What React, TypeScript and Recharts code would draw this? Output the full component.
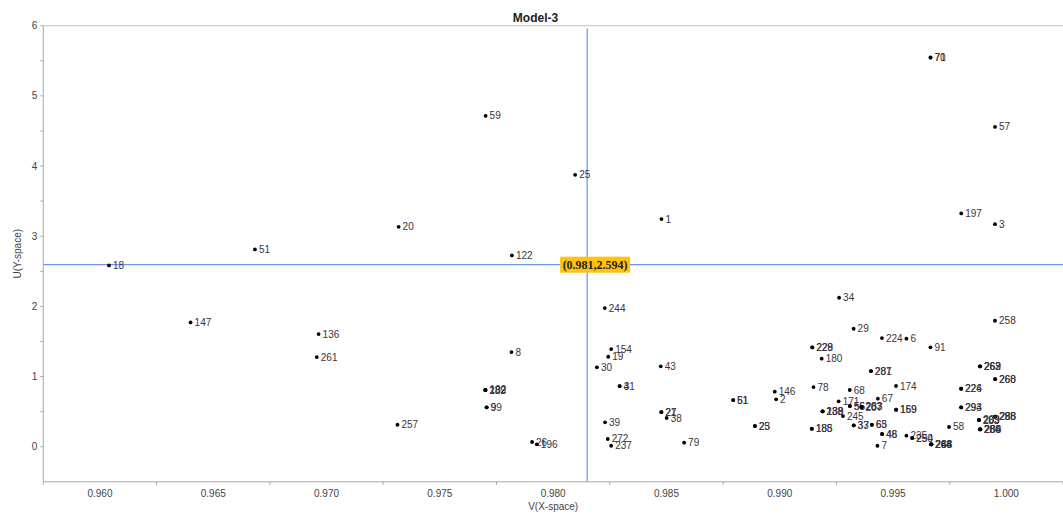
import React from 'react';
import { ScatterChart, Scatter, XAxis, YAxis, ReferenceLine, ReferenceDot } from 'recharts';

const chartTitle = 'Model-3';
const xTitle = 'V(X-space)';
const yTitle = 'U(Y-space)';

const xMajorTicks = [0.96, 0.965, 0.97, 0.975, 0.98, 0.985, 0.99, 0.995, 1.0];
const xMinorTicks = [0.9575, 0.9625, 0.9675, 0.9725, 0.9775, 0.9825, 0.9875, 0.9925, 0.9975, 1.0025];
const yMajorTicks = [0, 1, 2, 3, 4, 5, 6];
const yMinorTicks = [0.5, 1.5, 2.5, 3.5, 4.5, 5.5];

const crossV = 0.9815;
const crossU = 2.594;
const crossText = '(0.981,2.594)';

const labels = [
  '18', '147', '136', '261', '51', '20', '59', '25', '1', '122',
  '244', '8', '154', '19', '30', '43', '282', '189', '192', '99',
  '9', '257', '26', '196', '31', '4', '27', '21', '38', '39',
  '272', '237', '79', '51', '61', '146', '2', '25', '23', '34',
  '258', '29', '224', '6', '91', '229', '228', '180', '287', '281',
  '263', '262', '269', '260', '268', '78', '68', '174', '226', '224',
  '67', '171', '56', '55', '263', '207', '283', '159', '169', '294',
  '293', '238', '188', '139', '245', '298', '285', '288', '283', '203',
  '209', '188', '185', '33', '37', '63', '65', '58', '48', '46',
  '266', '284', '280', '286', '235', '250', '254', '244', '266', '268',
  '288', '7', '70', '71', '57', '197', '3',
];

const vValues = [
  0.9604, 0.9640, 0.96965, 0.96957, 0.96684, 0.97318, 0.97702, 0.98097, 0.98478, 0.97818,
  0.98228, 0.97816, 0.98256, 0.98243, 0.98193, 0.98475, 0.97700, 0.97701, 0.97702, 0.97707,
  0.97706, 0.97313, 0.97907, 0.97928, 0.98294, 0.98293, 0.98478, 0.98477, 0.98501, 0.98229,
  0.98241, 0.98256, 0.98578, 0.98794, 0.98795, 0.98978, 0.98984, 0.98890, 0.98891, 0.99262,
  0.99950, 0.99326, 0.99451, 0.99559, 0.99665, 0.99143, 0.99144, 0.99185, 0.99402, 0.99403,
  0.99883, 0.99884, 0.99885, 0.99950, 0.99951, 0.99149, 0.99309, 0.99513, 0.99800, 0.99801,
  0.99433, 0.99260, 0.99309, 0.99310, 0.99360, 0.99361, 0.99362, 0.99513, 0.99514, 0.99800,
  0.99801, 0.99188, 0.99189, 0.99190, 0.99279, 0.99950, 0.99951, 0.99952, 0.99878, 0.99879,
  0.99880, 0.99141, 0.99142, 0.99326, 0.99327, 0.99406, 0.99407, 0.99747, 0.99451, 0.99452,
  0.99883, 0.99884, 0.99885, 0.99886, 0.99559, 0.99584, 0.99585, 0.99667, 0.99668, 0.99669,
  0.99670, 0.99431, 0.99665, 0.99666, 0.99950, 0.99801, 0.99950,
];

const uValues = [
  2.584, 1.772, 1.605, 1.278, 2.812, 3.134, 4.715, 3.875, 3.244, 2.726,
  1.976, 1.349, 1.392, 1.282, 1.131, 1.145, 0.808, 0.806, 0.809, 0.561,
  0.560, 0.313, 0.067, 0.034, 0.863, 0.864, 0.494, 0.492, 0.409, 0.347,
  0.110, 0.014, 0.057, 0.665, 0.664, 0.784, 0.675, 0.295, 0.294, 2.123,
  1.795, 1.681, 1.548, 1.539, 1.416, 1.416, 1.415, 1.254, 1.078, 1.077,
  1.145, 1.144, 1.146, 0.964, 0.963, 0.850, 0.808, 0.865, 0.827, 0.826,
  0.684, 0.647, 0.580, 0.579, 0.566, 0.565, 0.567, 0.528, 0.527, 0.561,
  0.560, 0.504, 0.503, 0.505, 0.437, 0.428, 0.427, 0.429, 0.380, 0.379,
  0.381, 0.256, 0.255, 0.305, 0.304, 0.313, 0.312, 0.281, 0.181, 0.180,
  0.248, 0.247, 0.249, 0.248, 0.157, 0.124, 0.123, 0.034, 0.033, 0.035,
  0.034, 0.014, 5.547, 5.546, 4.558, 3.325, 3.172,
];

const points = labels.map((label, i) => ({ label, v: vValues[i], u: uValues[i] }));

const FONT = '"Liberation Sans", Arial, sans-serif';
const AXIS_COLOR = '#a8a8a8';
const LINE_BLUE = '#4a7de2';

const isIn = (arr: number[], v: number) => arr.some((t) => Math.abs(t - v) < 1e-9);

const XTick = (props: any) => {
  const { x, y, payload } = props;
  const v = payload.value;
  if (isIn(xMajorTicks, v)) {
    return (
      <text x={x} y={y + 15} textAnchor="middle" fontSize={10} fontFamily={FONT} fill="#444">
        {v.toFixed(3)}
      </text>
    );
  }
  return <line x1={x} x2={x} y1={y} y2={y + 3} stroke={AXIS_COLOR} />;
};

const YTick = (props: any) => {
  const { x, y, payload } = props;
  const v = payload.value;
  if (isIn(yMajorTicks, v)) {
    return (
      <g>
        <line x1={x - 3} x2={x} y1={y} y2={y} stroke={AXIS_COLOR} />
        <text x={x - 6} y={y} dy="0.35em" textAnchor="end" fontSize={10} fontFamily={FONT} fill="#444">
          {String(v)}
        </text>
      </g>
    );
  }
  return <line x1={x - 3} x2={x} y1={y} y2={y} stroke={AXIS_COLOR} />;
};

const PointShape = (props: any) => {
  const { cx, cy, payload } = props;
  if (cx == null || cy == null) return null;
  return (
    <g>
      <circle cx={cx} cy={cy} r={1.9} fill="#000" />
      <text x={cx + 4} y={cy} dy="0.35em" fontSize={10} fontFamily={FONT} fill="#3a3340">
        {payload.label}
      </text>
    </g>
  );
};

const CrossLabel = (props: any) => {
  const { cx, cy } = props;
  if (cx == null || cy == null) return null;
  return (
    <g>
      <rect x={cx - 27} y={cy - 8} width={70} height={16} fill="#ffc20e" />
      <text
        x={cx + 8}
        y={cy}
        dy="0.36em"
        textAnchor="middle"
        fontSize={12}
        fontWeight="bold"
        fontFamily={'"Liberation Serif", "Times New Roman", serif'}
        fill="#222"
      >
        {crossText}
      </text>
    </g>
  );
};

export default function App() {
  return (
    <div style={{ position: 'absolute', left: 0, top: 0, width: 1063, height: 516, background: '#fff' }}>
      <ScatterChart width={1063} height={516} margin={{ top: 25.7, right: 0, bottom: 14, left: 0 }}>
        <XAxis
          type="number"
          dataKey="v"
          domain={[0.9575, 1.0025]}
          ticks={[...xMajorTicks, ...xMinorTicks]}
          interval={0}
          allowDataOverflow
          height={20.2}
          tickSize={0}
          tickMargin={0}
          tickLine={false}
          stroke={AXIS_COLOR}
          tick={<XTick />}
          label={{
            content: (p: any) => {
              const vb = p.viewBox || {};
              return (
                <text
                  x={(vb.x ?? 43) + (vb.width ?? 1020) / 2}
                  y={(vb.y ?? 482) + 28.5}
                  textAnchor="middle"
                  fontSize={10}
                  fontFamily={FONT}
                  fill="#444"
                >
                  {xTitle}
                </text>
              );
            },
          }}
        />
        <YAxis
          type="number"
          dataKey="u"
          domain={[-0.5, 6]}
          ticks={[...yMajorTicks, ...yMinorTicks]}
          interval={0}
          allowDataOverflow
          width={43.3}
          tickSize={0}
          tickMargin={0}
          tickLine={false}
          stroke={AXIS_COLOR}
          tick={<YTick />}
          label={{
            content: (p: any) => {
              const vb = p.viewBox || {};
              const cy = (vb.y ?? 25.7) + (vb.height ?? 456) / 2;
              return (
                <text
                  x={17}
                  y={cy}
                  dy="0.35em"
                  textAnchor="middle"
                  fontSize={10}
                  fontFamily={FONT}
                  fill="#444"
                  transform={`rotate(-90, 17, ${cy})`}
                >
                  {yTitle}
                </text>
              );
            },
          }}
        />
        <ReferenceLine
          y={6}
          stroke="#c4c4c4"
          label={{
            content: () => (
              <text x={535.5} y={22} textAnchor="middle" fontSize={12} fontWeight="bold" fontFamily={FONT} fill="#222">
                {chartTitle}
              </text>
            ),
          }}
        />
        <ReferenceLine y={crossU} stroke={LINE_BLUE} />
        <ReferenceLine
          segment={[
            { x: crossV, y: 5.96 },
            { x: crossV, y: -0.5 },
          ]}
          stroke={LINE_BLUE}
        />
        <Scatter data={points} isAnimationActive={false} shape={<PointShape />} />
        <ReferenceDot x={crossV} y={crossU} r={0} shape={<CrossLabel />} />
      </ScatterChart>
    </div>
  );
}
